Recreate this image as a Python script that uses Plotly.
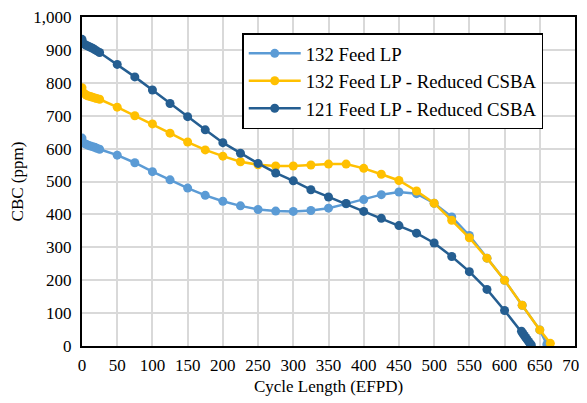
import plotly.graph_objects as go

x_lp = [0, 3, 6, 9, 12, 15, 18, 21, 25, 50, 75, 100, 125, 150, 175, 200, 225, 250, 275, 300,
        325, 350, 375, 400, 425, 450, 475, 500, 525, 550, 575, 600, 625, 650, 660]
y_lp = [632, 616, 613, 610, 608, 606, 604, 601, 598, 580, 557, 530, 505, 480, 458, 440, 426, 415, 410, 409,
        412, 419, 432, 445, 460, 468, 463, 434, 392, 336, 267, 200, 124, 49, 5]

x_red = [0, 3, 6, 9, 12, 15, 18, 21, 25, 50, 75, 100, 125, 150, 175, 200, 225, 250, 275, 300,
         325, 350, 375, 400, 425, 450, 475, 500, 525, 550, 575, 600, 625, 650, 665]
y_red = [785, 768, 763, 760, 758, 756, 754, 752, 750, 726, 700, 675, 647, 620, 596, 577, 560, 551, 547, 547,
         550, 553, 553, 540, 522, 503, 471, 434, 382, 329, 267, 200, 124, 49, 8]

x_121 = [0, 3, 6, 9, 12, 15, 18, 21, 25, 50, 75, 100, 125, 150, 175, 200, 225, 250, 275, 300,
         325, 350, 375, 400, 425, 450, 475, 500, 525, 550, 575, 600, 624, 626, 628, 630, 632, 634, 636, 638]
y_121 = [932, 918, 914, 911, 908, 905, 901, 897, 892, 856, 818, 778, 737, 697, 657, 618, 586, 555, 526, 502,
         475, 453, 433, 409, 388, 366, 343, 313, 272, 226, 172, 108, 45, 38, 32, 26, 20, 14, 8, 3]

names = ["132 Feed LP", "132 Feed LP - Reduced CSBA", "121 Feed LP - Reduced CSBA"]
colors = ["#5B9BD5", "#FFC000", "#255E91"]

fig = go.Figure()
for i, (xs, ys) in enumerate([(x_lp, y_lp), (x_red, y_red), (x_121, y_121)]):
    fig.add_trace(go.Scatter(
        x=xs, y=ys, mode="lines+markers", name=names[i], legendgroup=f"g{i}",
        line=dict(color=colors[i], width=2.5),
        marker=dict(color=colors[i], size=9),
    ))

font = "Liberation Serif"
fig.update_layout(
    width=587, height=403,
    margin=dict(l=74, r=20, t=9, b=65),
    plot_bgcolor="white", paper_bgcolor="white",
    font=dict(family=font, size=17, color="black"),
    showlegend=True,
    legend=dict(
        x=0.325, y=0.951, xanchor="left", yanchor="top",
        bgcolor="white", bordercolor="black", borderwidth=1.5,
        font=dict(family=font, size=18.8, color="black"),
        tracegroupgap=9, traceorder="normal", itemwidth=52,
    ),
    xaxis=dict(
        range=[0, 700], dtick=50, tick0=0, automargin=False,
        showgrid=True, gridcolor="#D9D9D9", gridwidth=1.5,
        showline=True, linecolor="black", linewidth=2, mirror=True,
        ticks="", zeroline=False, ticklabelstandoff=3, ticklabeloverflow="allow",
        title=dict(text="Cycle Length (EFPD)", font=dict(family=font, size=17, color="black"), standoff=6),
        tickfont=dict(family=font, size=17, color="black"),
    ),
    yaxis=dict(
        range=[0, 1000], dtick=100, tick0=0, tickformat=",d", automargin=False,
        showgrid=True, gridcolor="#D9D9D9", gridwidth=1.5,
        showline=True, linecolor="black", linewidth=2, mirror=True,
        ticks="", zeroline=False, ticklabelstandoff=5, ticklabeloverflow="allow",
        title=dict(text="CBC (ppm)", font=dict(family=font, size=17, color="black"), standoff=27),
        tickfont=dict(family=font, size=17, color="black"),
    ),
)

fig.write_html("out.html")
